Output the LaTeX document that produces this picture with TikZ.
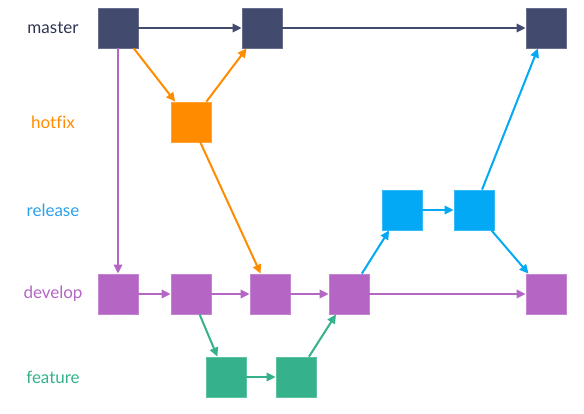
\documentclass[tikz,border=0pt]{standalone}
\usepackage{fontspec}
\setmainfont{Lato}[Ligatures=NoCommon]
\usetikzlibrary{arrows.meta}

\definecolor{MasterBlue}{HTML}{424A6E}
\definecolor{MasterText}{HTML}{2E3552}
\definecolor{HotfixOrange}{HTML}{FF8C00}
\definecolor{ReleaseBlue}{HTML}{03A9F4}
\definecolor{ReleaseText}{HTML}{2BA0EA}
\definecolor{DevelopPurple}{HTML}{B565C4}
\definecolor{FeatureGreen}{HTML}{35B18B}

\begin{document}
\begin{tikzpicture}[x=1pt,y=-1pt,
    commit/.style={draw=#1!80!white, fill=#1, line width=0.8pt, minimum size=40pt, inner sep=0pt},
    flow/.style={draw=#1, line width=2pt, -{Triangle[length=9pt,width=8.5pt]}},
    branch/.style={text=#1, font=\fontsize{17}{20}\selectfont}]
      \useasboundingbox (0,0) rectangle (584,413);

      % Define the row heights of the branches
      \def\MasterY{28}
      \def\HotfixY{122}
      \def\ReleaseY{210}
      \def\DevelopY{294}
      \def\FeatureY{377}

      % Branch names
      \node[branch=MasterText] (lmaster) at (53,\MasterY) {master};
      \node[branch=HotfixOrange] (lhotfix) at (53,\HotfixY) {hotfix};
      \node[branch=ReleaseText] (lrelease) at (53,\ReleaseY) {release};
      \node[branch=DevelopPurple] (ldevelop) at (53,\DevelopY) {develop};
      \node[branch=FeatureGreen] (lfeature) at (53,\FeatureY) {feature};

      % Commits
      \node[commit=MasterBlue] (m1) at (118,\MasterY) {};
      \node[commit=MasterBlue] (m2) at (262,\MasterY) {};
      \node[commit=MasterBlue] (m3) at (546,\MasterY) {};
      \node[commit=HotfixOrange] (h1) at (191,\HotfixY) {};
      \node[commit=ReleaseBlue] (r1) at (402,\ReleaseY) {};
      \node[commit=ReleaseBlue] (r2) at (474,\ReleaseY) {};
      \node[commit=DevelopPurple] (d1) at (118,\DevelopY) {};
      \node[commit=DevelopPurple] (d2) at (191,\DevelopY) {};
      \node[commit=DevelopPurple] (d3) at (270,\DevelopY) {};
      \node[commit=DevelopPurple] (d4) at (349,\DevelopY) {};
      \node[commit=DevelopPurple] (d5) at (546,\DevelopY) {};
      \node[commit=FeatureGreen] (f1) at (226,\FeatureY) {};
      \node[commit=FeatureGreen] (f2) at (296,\FeatureY) {};

      % Master line
      \draw[flow=MasterBlue] (m1) -- (m2);
      \draw[flow=MasterBlue] (m2) -- (m3);

      % Hotfix
      \draw[flow=HotfixOrange] (m1) -- (h1);
      \draw[flow=HotfixOrange] (h1) -- (m2);
      \draw[flow=HotfixOrange] (h1) -- (d3);

      % Develop line
      \draw[flow=DevelopPurple] (m1) -- (d1);
      \draw[flow=DevelopPurple] (d1) -- (d2);
      \draw[flow=DevelopPurple] (d2) -- (d3);
      \draw[flow=DevelopPurple] (d3) -- (d4);
      \draw[flow=DevelopPurple] (d4) -- (d5);

      % Feature
      \draw[flow=FeatureGreen] (d2) -- (f1);
      \draw[flow=FeatureGreen] (f1) -- (f2);
      \draw[flow=FeatureGreen] (f2) -- (d4);

      % Release
      \draw[flow=ReleaseBlue] (d4) -- (r1);
      \draw[flow=ReleaseBlue] (r1) -- (r2);
      \draw[flow=ReleaseBlue] (r2) -- (m3);
      \draw[flow=ReleaseBlue] (r2) -- (d5);
    \end{tikzpicture}
\end{document}
